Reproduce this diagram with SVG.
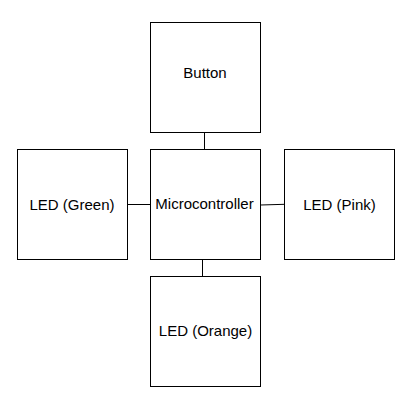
<svg xmlns="http://www.w3.org/2000/svg" width="411" height="400" viewBox="0 0 411 400">
<style>
.box{fill:#fff;stroke:#000;stroke-width:1}
.lbl{font-family:"Liberation Sans",Arial,sans-serif;font-size:15px;fill:#000;text-anchor:middle}
.con{stroke:#000;stroke-width:1;fill:none}
</style>
<rect width="411" height="400" fill="#fff"/>
<g id="connectors">
<line class="con" x1="204.5" y1="132.5" x2="204.5" y2="149.5"/>
<line class="con" x1="127.5" y1="204.5" x2="150.5" y2="204.5"/>
<line class="con" x1="260.5" y1="205" x2="284.5" y2="204.3"/>
<line class="con" x1="202.5" y1="259.5" x2="202.5" y2="276.5"/>
</g>
<g id="button">
<rect class="box" x="150.5" y="22.5" width="110" height="110"/>
<text class="lbl" x="205" y="78">Button</text>
</g>
<g id="microcontroller">
<rect class="box" x="150.5" y="149.5" width="110" height="110"/>
<text class="lbl" x="204.5" y="209">Microcontroller</text>
</g>
<g id="led-green">
<rect class="box" x="17.5" y="149.5" width="110" height="110"/>
<text class="lbl" x="72" y="209.5">LED (Green)</text>
</g>
<g id="led-pink">
<rect class="box" x="284.5" y="149.5" width="110" height="110"/>
<text class="lbl" x="339.5" y="210">LED (Pink)</text>
</g>
<g id="led-orange">
<rect class="box" x="150.5" y="276.5" width="110" height="110"/>
<text class="lbl" x="205.5" y="336">LED (Orange)</text>
</g>
</svg>
